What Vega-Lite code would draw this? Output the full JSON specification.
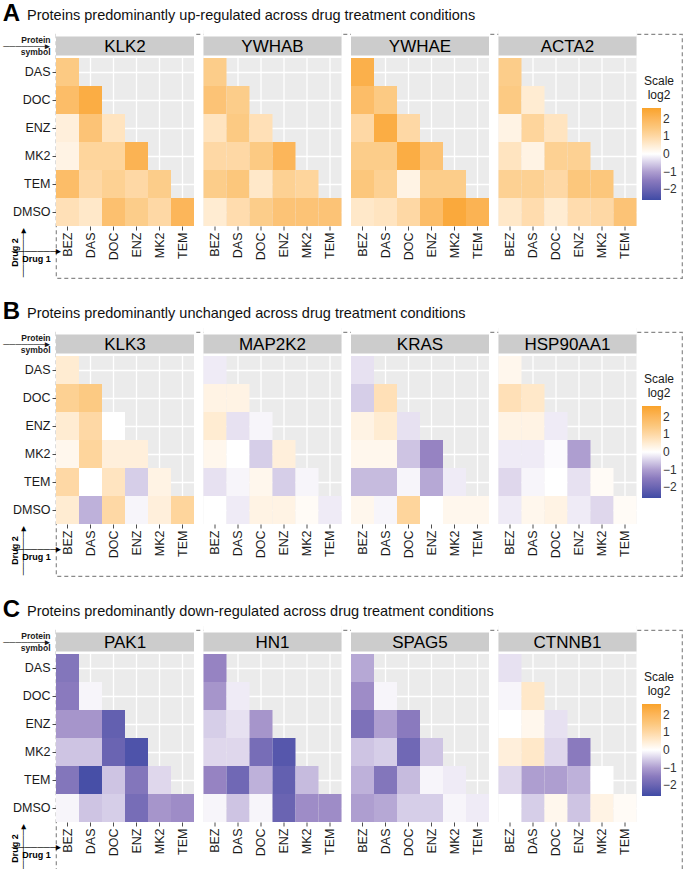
{
"$schema": "https://vega.github.io/schema/vega-lite/v6.json",
"padding": {"left": 2, "top": 2, "right": 2, "bottom": 2},
"background": "white",
"config": {
  "font": "Liberation Sans",
  "view": {"fill": "#EBEBEB", "stroke": null},
  "axis": {"domain": false, "gridColor": "#FFFFFF", "gridWidth": 1.3, "tickColor": "#4d4d4d", "tickSize": 4, "labelFont": "Liberation Sans", "labelFontSize": 12.5, "labelColor": "#1a1a1a", "labelPadding": 2, "titleFont": "Liberation Sans", "titleColor": "#000000", "zindex": 0},
  "legend": {"gradientLength": 92, "gradientThickness": 19, "gradientStrokeWidth": 0, "titleFont": "Liberation Sans", "titleFontSize": 12, "titleFontWeight": "normal", "titleColor": "#1a1a1a", "titleAlign": "center", "titleAnchor": "middle", "labelFont": "Liberation Sans", "labelFontSize": 12, "labelColor": "#333333", "labelOffset": 4, "titlePadding": 6, "orient": "none", "legendX": 586, "legendY": 42},
  "title": {"font": "Liberation Sans", "fontSize": 24, "fontWeight": "bold", "color": "#000000", "anchor": "start", "frame": "bounds", "subtitleFont": "Liberation Sans", "subtitleFontSize": 14.5, "subtitleColor": "#111111", "subtitlePadding": -17, "offset": 0}
},
"resolve": {"scale": {"color": "independent"}, "legend": {"color": "independent"}},
"spacing": 21,
"datasets": {
"A": [
{"p":"KLK2","d1":"BEZ","d2":"DAS","v":1.4},{"p":"KLK2","d1":"BEZ","d2":"DOC","v":1.8},{"p":"KLK2","d1":"DAS","d2":"DOC","v":2.3},{"p":"KLK2","d1":"BEZ","d2":"ENZ","v":0.4},{"p":"KLK2","d1":"DAS","d2":"ENZ","v":1.6},{"p":"KLK2","d1":"DOC","d2":"ENZ","v":0.7},{"p":"KLK2","d1":"BEZ","d2":"MK2","v":0.3},{"p":"KLK2","d1":"DAS","d2":"MK2","v":1.1},{"p":"KLK2","d1":"DOC","d2":"MK2","v":1.1},{"p":"KLK2","d1":"ENZ","d2":"MK2","v":2.1},{"p":"KLK2","d1":"BEZ","d2":"TEM","v":1.8},{"p":"KLK2","d1":"DAS","d2":"TEM","v":1.0},{"p":"KLK2","d1":"DOC","d2":"TEM","v":1.2},{"p":"KLK2","d1":"ENZ","d2":"TEM","v":1.0},{"p":"KLK2","d1":"MK2","d2":"TEM","v":1.3},{"p":"KLK2","d1":"BEZ","d2":"DMSO","v":0.8},{"p":"KLK2","d1":"DAS","d2":"DMSO","v":0.6},{"p":"KLK2","d1":"DOC","d2":"DMSO","v":1.7},{"p":"KLK2","d1":"ENZ","d2":"DMSO","v":1.3},{"p":"KLK2","d1":"MK2","d2":"DMSO","v":1.0},{"p":"KLK2","d1":"TEM","d2":"DMSO","v":2.0},
{"p":"YWHAB","d1":"BEZ","d2":"DAS","v":1.3},{"p":"YWHAB","d1":"BEZ","d2":"DOC","v":1.6},{"p":"YWHAB","d1":"DAS","d2":"DOC","v":1.3},{"p":"YWHAB","d1":"BEZ","d2":"ENZ","v":0.7},{"p":"YWHAB","d1":"DAS","d2":"ENZ","v":1.4},{"p":"YWHAB","d1":"DOC","d2":"ENZ","v":0.8},{"p":"YWHAB","d1":"BEZ","d2":"MK2","v":1.0},{"p":"YWHAB","d1":"DAS","d2":"MK2","v":1.0},{"p":"YWHAB","d1":"DOC","d2":"MK2","v":1.4},{"p":"YWHAB","d1":"ENZ","d2":"MK2","v":2.0},{"p":"YWHAB","d1":"BEZ","d2":"TEM","v":1.3},{"p":"YWHAB","d1":"DAS","d2":"TEM","v":1.5},{"p":"YWHAB","d1":"DOC","d2":"TEM","v":0.6},{"p":"YWHAB","d1":"ENZ","d2":"TEM","v":1.2},{"p":"YWHAB","d1":"MK2","d2":"TEM","v":1.1},{"p":"YWHAB","d1":"BEZ","d2":"DMSO","v":0.5},{"p":"YWHAB","d1":"DAS","d2":"DMSO","v":0.9},{"p":"YWHAB","d1":"DOC","d2":"DMSO","v":1.3},{"p":"YWHAB","d1":"ENZ","d2":"DMSO","v":1.6},{"p":"YWHAB","d1":"MK2","d2":"DMSO","v":1.6},{"p":"YWHAB","d1":"TEM","d2":"DMSO","v":1.6},
{"p":"YWHAE","d1":"BEZ","d2":"DAS","v":2.2},{"p":"YWHAE","d1":"BEZ","d2":"DOC","v":1.8},{"p":"YWHAE","d1":"DAS","d2":"DOC","v":1.4},{"p":"YWHAE","d1":"BEZ","d2":"ENZ","v":1.0},{"p":"YWHAE","d1":"DAS","d2":"ENZ","v":2.3},{"p":"YWHAE","d1":"DOC","d2":"ENZ","v":1.0},{"p":"YWHAE","d1":"BEZ","d2":"MK2","v":1.3},{"p":"YWHAE","d1":"DAS","d2":"MK2","v":1.3},{"p":"YWHAE","d1":"DOC","d2":"MK2","v":2.3},{"p":"YWHAE","d1":"ENZ","d2":"MK2","v":1.6},{"p":"YWHAE","d1":"BEZ","d2":"TEM","v":1.5},{"p":"YWHAE","d1":"DAS","d2":"TEM","v":1.2},{"p":"YWHAE","d1":"DOC","d2":"TEM","v":0.3},{"p":"YWHAE","d1":"ENZ","d2":"TEM","v":1.3},{"p":"YWHAE","d1":"MK2","d2":"TEM","v":1.3},{"p":"YWHAE","d1":"BEZ","d2":"DMSO","v":0.6},{"p":"YWHAE","d1":"DAS","d2":"DMSO","v":0.7},{"p":"YWHAE","d1":"DOC","d2":"DMSO","v":1.0},{"p":"YWHAE","d1":"ENZ","d2":"DMSO","v":1.8},{"p":"YWHAE","d1":"MK2","d2":"DMSO","v":2.4},{"p":"YWHAE","d1":"TEM","d2":"DMSO","v":2.1},
{"p":"ACTA2","d1":"BEZ","d2":"DAS","v":1.3},{"p":"ACTA2","d1":"BEZ","d2":"DOC","v":1.4},{"p":"ACTA2","d1":"DAS","d2":"DOC","v":0.5},{"p":"ACTA2","d1":"BEZ","d2":"ENZ","v":0.3},{"p":"ACTA2","d1":"DAS","d2":"ENZ","v":1.1},{"p":"ACTA2","d1":"DOC","d2":"ENZ","v":0.7},{"p":"ACTA2","d1":"BEZ","d2":"MK2","v":0.7},{"p":"ACTA2","d1":"DAS","d2":"MK2","v":0.3},{"p":"ACTA2","d1":"DOC","d2":"MK2","v":1.2},{"p":"ACTA2","d1":"ENZ","d2":"MK2","v":1.2},{"p":"ACTA2","d1":"BEZ","d2":"TEM","v":1.2},{"p":"ACTA2","d1":"DAS","d2":"TEM","v":1.2},{"p":"ACTA2","d1":"DOC","d2":"TEM","v":1.0},{"p":"ACTA2","d1":"ENZ","d2":"TEM","v":1.5},{"p":"ACTA2","d1":"MK2","d2":"TEM","v":1.5},{"p":"ACTA2","d1":"BEZ","d2":"DMSO","v":0.6},{"p":"ACTA2","d1":"DAS","d2":"DMSO","v":0.9},{"p":"ACTA2","d1":"DOC","d2":"DMSO","v":0.5},{"p":"ACTA2","d1":"ENZ","d2":"DMSO","v":0.9},{"p":"ACTA2","d1":"MK2","d2":"DMSO","v":1.0},{"p":"ACTA2","d1":"TEM","d2":"DMSO","v":1.6}
],
"B": [
{"p":"KLK3","d1":"BEZ","d2":"DAS","v":0.5},{"p":"KLK3","d1":"BEZ","d2":"DOC","v":1.2},{"p":"KLK3","d1":"DAS","d2":"DOC","v":1.4},{"p":"KLK3","d1":"BEZ","d2":"ENZ","v":0.5},{"p":"KLK3","d1":"DAS","d2":"ENZ","v":1.0},{"p":"KLK3","d1":"DOC","d2":"ENZ","v":0.0},{"p":"KLK3","d1":"BEZ","d2":"MK2","v":0.2},{"p":"KLK3","d1":"DAS","d2":"MK2","v":1.1},{"p":"KLK3","d1":"DOC","d2":"MK2","v":0.4},{"p":"KLK3","d1":"ENZ","d2":"MK2","v":0.4},{"p":"KLK3","d1":"BEZ","d2":"TEM","v":1.0},{"p":"KLK3","d1":"DAS","d2":"TEM","v":0.0},{"p":"KLK3","d1":"DOC","d2":"TEM","v":0.7},{"p":"KLK3","d1":"ENZ","d2":"TEM","v":-0.5},{"p":"KLK3","d1":"MK2","d2":"TEM","v":0.3},{"p":"KLK3","d1":"BEZ","d2":"DMSO","v":0.5},{"p":"KLK3","d1":"DAS","d2":"DMSO","v":-0.8},{"p":"KLK3","d1":"DOC","d2":"DMSO","v":1.0},{"p":"KLK3","d1":"ENZ","d2":"DMSO","v":-0.1},{"p":"KLK3","d1":"MK2","d2":"DMSO","v":0.4},{"p":"KLK3","d1":"TEM","d2":"DMSO","v":1.1},
{"p":"MAP2K2","d1":"BEZ","d2":"DAS","v":-0.2},{"p":"MAP2K2","d1":"BEZ","d2":"DOC","v":0.3},{"p":"MAP2K2","d1":"DAS","d2":"DOC","v":0.3},{"p":"MAP2K2","d1":"BEZ","d2":"ENZ","v":0.5},{"p":"MAP2K2","d1":"DAS","d2":"ENZ","v":-0.3},{"p":"MAP2K2","d1":"DOC","d2":"ENZ","v":-0.1},{"p":"MAP2K2","d1":"BEZ","d2":"MK2","v":0.2},{"p":"MAP2K2","d1":"DAS","d2":"MK2","v":0.0},{"p":"MAP2K2","d1":"DOC","d2":"MK2","v":-0.5},{"p":"MAP2K2","d1":"ENZ","d2":"MK2","v":0.4},{"p":"MAP2K2","d1":"BEZ","d2":"TEM","v":-0.3},{"p":"MAP2K2","d1":"DAS","d2":"TEM","v":-0.1},{"p":"MAP2K2","d1":"DOC","d2":"TEM","v":0.2},{"p":"MAP2K2","d1":"ENZ","d2":"TEM","v":-0.5},{"p":"MAP2K2","d1":"MK2","d2":"TEM","v":-0.1},{"p":"MAP2K2","d1":"BEZ","d2":"DMSO","v":0.0},{"p":"MAP2K2","d1":"DAS","d2":"DMSO","v":-0.2},{"p":"MAP2K2","d1":"DOC","d2":"DMSO","v":0.3},{"p":"MAP2K2","d1":"ENZ","d2":"DMSO","v":0.3},{"p":"MAP2K2","d1":"MK2","d2":"DMSO","v":0.1},{"p":"MAP2K2","d1":"TEM","d2":"DMSO","v":-0.2},
{"p":"KRAS","d1":"BEZ","d2":"DAS","v":-0.3},{"p":"KRAS","d1":"BEZ","d2":"DOC","v":-0.5},{"p":"KRAS","d1":"DAS","d2":"DOC","v":0.8},{"p":"KRAS","d1":"BEZ","d2":"ENZ","v":0.3},{"p":"KRAS","d1":"DAS","d2":"ENZ","v":0.5},{"p":"KRAS","d1":"DOC","d2":"ENZ","v":-0.3},{"p":"KRAS","d1":"BEZ","d2":"MK2","v":0.2},{"p":"KRAS","d1":"DAS","d2":"MK2","v":0.2},{"p":"KRAS","d1":"DOC","d2":"MK2","v":-0.6},{"p":"KRAS","d1":"ENZ","d2":"MK2","v":-1.3},{"p":"KRAS","d1":"BEZ","d2":"TEM","v":-0.7},{"p":"KRAS","d1":"DAS","d2":"TEM","v":-0.7},{"p":"KRAS","d1":"DOC","d2":"TEM","v":-0.1},{"p":"KRAS","d1":"ENZ","d2":"TEM","v":-0.9},{"p":"KRAS","d1":"MK2","d2":"TEM","v":-0.2},{"p":"KRAS","d1":"BEZ","d2":"DMSO","v":0.2},{"p":"KRAS","d1":"DAS","d2":"DMSO","v":-0.1},{"p":"KRAS","d1":"DOC","d2":"DMSO","v":1.1},{"p":"KRAS","d1":"ENZ","d2":"DMSO","v":0.0},{"p":"KRAS","d1":"MK2","d2":"DMSO","v":0.2},{"p":"KRAS","d1":"TEM","d2":"DMSO","v":0.2},
{"p":"HSP90AA1","d1":"BEZ","d2":"DAS","v":0.2},{"p":"HSP90AA1","d1":"BEZ","d2":"DOC","v":0.8},{"p":"HSP90AA1","d1":"DAS","d2":"DOC","v":0.6},{"p":"HSP90AA1","d1":"BEZ","d2":"ENZ","v":0.3},{"p":"HSP90AA1","d1":"DAS","d2":"ENZ","v":0.3},{"p":"HSP90AA1","d1":"DOC","d2":"ENZ","v":-0.2},{"p":"HSP90AA1","d1":"BEZ","d2":"MK2","v":-0.2},{"p":"HSP90AA1","d1":"DAS","d2":"MK2","v":-0.2},{"p":"HSP90AA1","d1":"DOC","d2":"MK2","v":-0.05},{"p":"HSP90AA1","d1":"ENZ","d2":"MK2","v":-1.0},{"p":"HSP90AA1","d1":"BEZ","d2":"TEM","v":-0.4},{"p":"HSP90AA1","d1":"DAS","d2":"TEM","v":-0.1},{"p":"HSP90AA1","d1":"DOC","d2":"TEM","v":0.0},{"p":"HSP90AA1","d1":"ENZ","d2":"TEM","v":-0.3},{"p":"HSP90AA1","d1":"MK2","d2":"TEM","v":0.1},{"p":"HSP90AA1","d1":"BEZ","d2":"DMSO","v":-0.2},{"p":"HSP90AA1","d1":"DAS","d2":"DMSO","v":0.2},{"p":"HSP90AA1","d1":"DOC","d2":"DMSO","v":0.3},{"p":"HSP90AA1","d1":"ENZ","d2":"DMSO","v":-0.2},{"p":"HSP90AA1","d1":"MK2","d2":"DMSO","v":-0.4},{"p":"HSP90AA1","d1":"TEM","d2":"DMSO","v":0.1}
],
"C": [
{"p":"PAK1","d1":"BEZ","d2":"DAS","v":-1.6},{"p":"PAK1","d1":"BEZ","d2":"DOC","v":-1.5},{"p":"PAK1","d1":"DAS","d2":"DOC","v":-0.1},{"p":"PAK1","d1":"BEZ","d2":"ENZ","v":-1.1},{"p":"PAK1","d1":"DAS","d2":"ENZ","v":-1.1},{"p":"PAK1","d1":"DOC","d2":"ENZ","v":-2.1},{"p":"PAK1","d1":"BEZ","d2":"MK2","v":-0.6},{"p":"PAK1","d1":"DAS","d2":"MK2","v":-0.6},{"p":"PAK1","d1":"DOC","d2":"MK2","v":-2.0},{"p":"PAK1","d1":"ENZ","d2":"MK2","v":-2.4},{"p":"PAK1","d1":"BEZ","d2":"TEM","v":-1.6},{"p":"PAK1","d1":"DAS","d2":"TEM","v":-2.5},{"p":"PAK1","d1":"DOC","d2":"TEM","v":-0.6},{"p":"PAK1","d1":"ENZ","d2":"TEM","v":-1.6},{"p":"PAK1","d1":"MK2","d2":"TEM","v":-0.4},{"p":"PAK1","d1":"BEZ","d2":"DMSO","v":-0.1},{"p":"PAK1","d1":"DAS","d2":"DMSO","v":-0.6},{"p":"PAK1","d1":"DOC","d2":"DMSO","v":-0.5},{"p":"PAK1","d1":"ENZ","d2":"DMSO","v":-1.8},{"p":"PAK1","d1":"MK2","d2":"DMSO","v":-1.1},{"p":"PAK1","d1":"TEM","d2":"DMSO","v":-1.2},
{"p":"HN1","d1":"BEZ","d2":"DAS","v":-1.3},{"p":"HN1","d1":"BEZ","d2":"DOC","v":-1.1},{"p":"HN1","d1":"DAS","d2":"DOC","v":-0.2},{"p":"HN1","d1":"BEZ","d2":"ENZ","v":-0.5},{"p":"HN1","d1":"DAS","d2":"ENZ","v":-0.3},{"p":"HN1","d1":"DOC","d2":"ENZ","v":-1.1},{"p":"HN1","d1":"BEZ","d2":"MK2","v":-0.4},{"p":"HN1","d1":"DAS","d2":"MK2","v":-0.4},{"p":"HN1","d1":"DOC","d2":"MK2","v":-1.8},{"p":"HN1","d1":"ENZ","d2":"MK2","v":-2.3},{"p":"HN1","d1":"BEZ","d2":"TEM","v":-1.3},{"p":"HN1","d1":"DAS","d2":"TEM","v":-1.9},{"p":"HN1","d1":"DOC","d2":"TEM","v":-0.8},{"p":"HN1","d1":"ENZ","d2":"TEM","v":-2.1},{"p":"HN1","d1":"MK2","d2":"TEM","v":-0.7},{"p":"HN1","d1":"BEZ","d2":"DMSO","v":-0.1},{"p":"HN1","d1":"DAS","d2":"DMSO","v":-0.6},{"p":"HN1","d1":"DOC","d2":"DMSO","v":-0.1},{"p":"HN1","d1":"ENZ","d2":"DMSO","v":-2.0},{"p":"HN1","d1":"MK2","d2":"DMSO","v":-1.2},{"p":"HN1","d1":"TEM","d2":"DMSO","v":-1.2},
{"p":"SPAG5","d1":"BEZ","d2":"DAS","v":-0.9},{"p":"SPAG5","d1":"BEZ","d2":"DOC","v":-1.2},{"p":"SPAG5","d1":"DAS","d2":"DOC","v":-0.1},{"p":"SPAG5","d1":"BEZ","d2":"ENZ","v":-1.7},{"p":"SPAG5","d1":"DAS","d2":"ENZ","v":-1.0},{"p":"SPAG5","d1":"DOC","d2":"ENZ","v":-1.5},{"p":"SPAG5","d1":"BEZ","d2":"MK2","v":-0.6},{"p":"SPAG5","d1":"DAS","d2":"MK2","v":-0.5},{"p":"SPAG5","d1":"DOC","d2":"MK2","v":-1.9},{"p":"SPAG5","d1":"ENZ","d2":"MK2","v":-0.6},{"p":"SPAG5","d1":"BEZ","d2":"TEM","v":-0.8},{"p":"SPAG5","d1":"DAS","d2":"TEM","v":-1.6},{"p":"SPAG5","d1":"DOC","d2":"TEM","v":-0.7},{"p":"SPAG5","d1":"ENZ","d2":"TEM","v":-0.1},{"p":"SPAG5","d1":"MK2","d2":"TEM","v":-0.2},{"p":"SPAG5","d1":"BEZ","d2":"DMSO","v":-1.0},{"p":"SPAG5","d1":"DAS","d2":"DMSO","v":-0.9},{"p":"SPAG5","d1":"DOC","d2":"DMSO","v":-0.5},{"p":"SPAG5","d1":"ENZ","d2":"DMSO","v":-0.5},{"p":"SPAG5","d1":"MK2","d2":"DMSO","v":-0.1},{"p":"SPAG5","d1":"TEM","d2":"DMSO","v":-0.2},
{"p":"CTNNB1","d1":"BEZ","d2":"DAS","v":-0.3},{"p":"CTNNB1","d1":"BEZ","d2":"DOC","v":-0.1},{"p":"CTNNB1","d1":"DAS","d2":"DOC","v":0.6},{"p":"CTNNB1","d1":"BEZ","d2":"ENZ","v":0.0},{"p":"CTNNB1","d1":"DAS","d2":"ENZ","v":0.2},{"p":"CTNNB1","d1":"DOC","d2":"ENZ","v":-0.3},{"p":"CTNNB1","d1":"BEZ","d2":"MK2","v":0.4},{"p":"CTNNB1","d1":"DAS","d2":"MK2","v":0.6},{"p":"CTNNB1","d1":"DOC","d2":"MK2","v":-0.4},{"p":"CTNNB1","d1":"ENZ","d2":"MK2","v":-1.5},{"p":"CTNNB1","d1":"BEZ","d2":"TEM","v":-0.4},{"p":"CTNNB1","d1":"DAS","d2":"TEM","v":-1.0},{"p":"CTNNB1","d1":"DOC","d2":"TEM","v":-1.0},{"p":"CTNNB1","d1":"ENZ","d2":"TEM","v":-0.8},{"p":"CTNNB1","d1":"MK2","d2":"TEM","v":0.0},{"p":"CTNNB1","d1":"BEZ","d2":"DMSO","v":0.0},{"p":"CTNNB1","d1":"DAS","d2":"DMSO","v":-0.5},{"p":"CTNNB1","d1":"DOC","d2":"DMSO","v":0.2},{"p":"CTNNB1","d1":"ENZ","d2":"DMSO","v":-0.6},{"p":"CTNNB1","d1":"MK2","d2":"DMSO","v":0.3},{"p":"CTNNB1","d1":"TEM","d2":"DMSO","v":0.1}
]
},
"vconcat": [
{
 "data": {"name": "A"},
 "title": {"text": "A", "subtitle": "\u200b\u00a0\u00a0\u00a0\u00a0\u00a0\u00a0Proteins predominantly up-regulated across drug treatment conditions"},
 "columns": 1,
 "align": "none",
 "spacing": -249,
 "resolve": {"scale": {"color": "shared"}, "legend": {"color": "shared"}},
 "concat": [
  {"width": 626, "height": 244, "view": {"fill": "#FFFFFF", "fillOpacity": 0, "stroke": "#8A8A8A", "strokeWidth": 1.2, "strokeDash": [4, 3]}, "mark": {"type": "rect", "opacity": 0}, "encoding": {}},
  {"spacing": 9.5,
   "resolve": {"scale": {"color": "shared"}, "legend": {"color": "shared"}},
   "hconcat": [
  {"width": 138, "height": 196, "transform": [{"filter": "datum.p == 'KLK2'"}],
   "layer": [
    {"mark": "rect", "encoding": {
      "x": {"field": "d1", "type": "nominal", "scale": {"domain": ["BEZ","DAS","DOC","ENZ","MK2","TEM"], "paddingInner": 0, "paddingOuter": 0}, "axis": {"zindex": 0, "labelAngle": 270, "grid": true, "title": ["\u2500\u2500\u2500\u2500\u2500\u2500\u2500\u25b8", "Drug 1"], "titleFontSize": 9, "titleFontWeight": "bold", "titleLineHeight": 8, "titleX": -20, "titleY": 24, "titleAlign": "center", "titleBaseline": "middle"}},
      "y": {"field": "d2", "type": "nominal", "scale": {"domain": ["hdr","DAS","DOC","ENZ","MK2","TEM","DMSO"], "paddingInner": 0, "paddingOuter": 0}, "axis": {"zindex": 0, "grid": true, "title": ["Drug 2", "\u2500\u2500\u2500\u2500\u2500\u2500\u2500\u25b8"], "titleFontSize": 9, "titleFontWeight": "bold", "titleLineHeight": 8, "titleX": -42, "titleY": 222, "titleAlign": "center", "titleBaseline": "middle", "labelExpr": "datum.value == 'hdr' ? ['Protein', '\u2500\u2500\u2500\u2500\u2500\u2500\u2500\u25b8', 'symbol'] : datum.value", "labelLineHeight": 6, "labelOffset": {"condition": {"test": "datum.value == 'hdr'", "value": -4}, "value": 0}, "labelFontSize": {"condition": {"test": "datum.value == 'hdr'", "value": 8.5}, "value": 12.5}, "labelFontWeight": {"condition": {"test": "datum.value == 'hdr'", "value": "bold"}, "value": "normal"}, "tickOpacity": {"condition": {"test": "datum.value == 'hdr'", "value": 0}, "value": 1}}},
      "color": {"field": "v", "type": "quantitative", "scale": {"domain": [-2.6, -1.3, 0, 1.3, 2.6], "range": ["#3F4BA5", "#9683C2", "#FFFFFF", "#FCCD8A", "#F9A32A"], "interpolate": "lab"}, "legend": {"title": ["Scale", "log2"], "values": [2, 1, 0, -1, -2]}}}},
    {"transform": [{"aggregate": [{"op": "count", "as": "n"}], "groupby": ["p"]}],
     "layer": [
      {"mark": {"type": "rect", "fill": "#FFFFFF"}, "encoding": {"y": {"datum": "hdr", "type": "nominal", "scale": {"domain": ["hdr","DAS","DOC","ENZ","MK2","TEM","DMSO"], "paddingInner": 0, "paddingOuter": 0}}}},
      {"mark": {"type": "bar", "fill": "#CCCCCC", "height": 19, "yOffset": 2}, "encoding": {"y": {"datum": "hdr", "type": "nominal", "scale": {"domain": ["hdr","DAS","DOC","ENZ","MK2","TEM","DMSO"], "paddingInner": 0, "paddingOuter": 0}}}},
      {"mark": {"type": "text", "fontSize": 17, "yOffset": 2.5, "color": "#000000"}, "encoding": {"y": {"datum": "hdr", "type": "nominal", "scale": {"domain": ["hdr","DAS","DOC","ENZ","MK2","TEM","DMSO"], "paddingInner": 0, "paddingOuter": 0}}, "text": {"field": "p", "type": "nominal"}}}
     ]}
   ]},
  {"width": 138, "height": 196, "transform": [{"filter": "datum.p == 'YWHAB'"}],
   "layer": [
    {"mark": "rect", "encoding": {
      "x": {"field": "d1", "type": "nominal", "scale": {"domain": ["BEZ","DAS","DOC","ENZ","MK2","TEM"], "paddingInner": 0, "paddingOuter": 0}, "axis": {"zindex": 0, "labelAngle": 270, "grid": true, "title": null}},
      "y": {"field": "d2", "type": "nominal", "scale": {"domain": ["hdr","DAS","DOC","ENZ","MK2","TEM","DMSO"], "paddingInner": 0, "paddingOuter": 0}, "axis": {"zindex": 0, "grid": true, "title": null, "labels": false, "ticks": false, "minExtent": 0}},
      "color": {"field": "v", "type": "quantitative", "scale": {"domain": [-2.6, -1.3, 0, 1.3, 2.6], "range": ["#3F4BA5", "#9683C2", "#FFFFFF", "#FCCD8A", "#F9A32A"], "interpolate": "lab"}, "legend": {"title": ["Scale", "log2"], "values": [2, 1, 0, -1, -2]}}}},
    {"transform": [{"aggregate": [{"op": "count", "as": "n"}], "groupby": ["p"]}],
     "layer": [
      {"mark": {"type": "rect", "fill": "#FFFFFF"}, "encoding": {"y": {"datum": "hdr", "type": "nominal", "scale": {"domain": ["hdr","DAS","DOC","ENZ","MK2","TEM","DMSO"], "paddingInner": 0, "paddingOuter": 0}}}},
      {"mark": {"type": "bar", "fill": "#CCCCCC", "height": 19, "yOffset": 2}, "encoding": {"y": {"datum": "hdr", "type": "nominal", "scale": {"domain": ["hdr","DAS","DOC","ENZ","MK2","TEM","DMSO"], "paddingInner": 0, "paddingOuter": 0}}}},
      {"mark": {"type": "text", "fontSize": 17, "yOffset": 2.5, "color": "#000000"}, "encoding": {"y": {"datum": "hdr", "type": "nominal", "scale": {"domain": ["hdr","DAS","DOC","ENZ","MK2","TEM","DMSO"], "paddingInner": 0, "paddingOuter": 0}}, "text": {"field": "p", "type": "nominal"}}}
     ]}
   ]},
  {"width": 138, "height": 196, "transform": [{"filter": "datum.p == 'YWHAE'"}],
   "layer": [
    {"mark": "rect", "encoding": {
      "x": {"field": "d1", "type": "nominal", "scale": {"domain": ["BEZ","DAS","DOC","ENZ","MK2","TEM"], "paddingInner": 0, "paddingOuter": 0}, "axis": {"zindex": 0, "labelAngle": 270, "grid": true, "title": null}},
      "y": {"field": "d2", "type": "nominal", "scale": {"domain": ["hdr","DAS","DOC","ENZ","MK2","TEM","DMSO"], "paddingInner": 0, "paddingOuter": 0}, "axis": {"zindex": 0, "grid": true, "title": null, "labels": false, "ticks": false, "minExtent": 0}},
      "color": {"field": "v", "type": "quantitative", "scale": {"domain": [-2.6, -1.3, 0, 1.3, 2.6], "range": ["#3F4BA5", "#9683C2", "#FFFFFF", "#FCCD8A", "#F9A32A"], "interpolate": "lab"}, "legend": {"title": ["Scale", "log2"], "values": [2, 1, 0, -1, -2]}}}},
    {"transform": [{"aggregate": [{"op": "count", "as": "n"}], "groupby": ["p"]}],
     "layer": [
      {"mark": {"type": "rect", "fill": "#FFFFFF"}, "encoding": {"y": {"datum": "hdr", "type": "nominal", "scale": {"domain": ["hdr","DAS","DOC","ENZ","MK2","TEM","DMSO"], "paddingInner": 0, "paddingOuter": 0}}}},
      {"mark": {"type": "bar", "fill": "#CCCCCC", "height": 19, "yOffset": 2}, "encoding": {"y": {"datum": "hdr", "type": "nominal", "scale": {"domain": ["hdr","DAS","DOC","ENZ","MK2","TEM","DMSO"], "paddingInner": 0, "paddingOuter": 0}}}},
      {"mark": {"type": "text", "fontSize": 17, "yOffset": 2.5, "color": "#000000"}, "encoding": {"y": {"datum": "hdr", "type": "nominal", "scale": {"domain": ["hdr","DAS","DOC","ENZ","MK2","TEM","DMSO"], "paddingInner": 0, "paddingOuter": 0}}, "text": {"field": "p", "type": "nominal"}}}
     ]}
   ]},
  {"width": 138, "height": 196, "transform": [{"filter": "datum.p == 'ACTA2'"}],
   "layer": [
    {"mark": "rect", "encoding": {
      "x": {"field": "d1", "type": "nominal", "scale": {"domain": ["BEZ","DAS","DOC","ENZ","MK2","TEM"], "paddingInner": 0, "paddingOuter": 0}, "axis": {"zindex": 0, "labelAngle": 270, "grid": true, "title": null}},
      "y": {"field": "d2", "type": "nominal", "scale": {"domain": ["hdr","DAS","DOC","ENZ","MK2","TEM","DMSO"], "paddingInner": 0, "paddingOuter": 0}, "axis": {"zindex": 0, "grid": true, "title": null, "labels": false, "ticks": false, "minExtent": 0}},
      "color": {"field": "v", "type": "quantitative", "scale": {"domain": [-2.6, -1.3, 0, 1.3, 2.6], "range": ["#3F4BA5", "#9683C2", "#FFFFFF", "#FCCD8A", "#F9A32A"], "interpolate": "lab"}, "legend": {"title": ["Scale", "log2"], "values": [2, 1, 0, -1, -2]}}}},
    {"transform": [{"aggregate": [{"op": "count", "as": "n"}], "groupby": ["p"]}],
     "layer": [
      {"mark": {"type": "rect", "fill": "#FFFFFF"}, "encoding": {"y": {"datum": "hdr", "type": "nominal", "scale": {"domain": ["hdr","DAS","DOC","ENZ","MK2","TEM","DMSO"], "paddingInner": 0, "paddingOuter": 0}}}},
      {"mark": {"type": "bar", "fill": "#CCCCCC", "height": 19, "yOffset": 2}, "encoding": {"y": {"datum": "hdr", "type": "nominal", "scale": {"domain": ["hdr","DAS","DOC","ENZ","MK2","TEM","DMSO"], "paddingInner": 0, "paddingOuter": 0}}}},
      {"mark": {"type": "text", "fontSize": 17, "yOffset": 2.5, "color": "#000000"}, "encoding": {"y": {"datum": "hdr", "type": "nominal", "scale": {"domain": ["hdr","DAS","DOC","ENZ","MK2","TEM","DMSO"], "paddingInner": 0, "paddingOuter": 0}}, "text": {"field": "p", "type": "nominal"}}}
     ]}
   ]}
   ]}
 ]
},
{
 "data": {"name": "B"},
 "title": {"text": "B", "subtitle": "\u200b\u00a0\u00a0\u00a0\u00a0\u00a0\u00a0Proteins predominantly unchanged across drug treatment conditions"},
 "columns": 1,
 "align": "none",
 "spacing": -249,
 "resolve": {"scale": {"color": "shared"}, "legend": {"color": "shared"}},
 "concat": [
  {"width": 626, "height": 244, "view": {"fill": "#FFFFFF", "fillOpacity": 0, "stroke": "#8A8A8A", "strokeWidth": 1.2, "strokeDash": [4, 3]}, "mark": {"type": "rect", "opacity": 0}, "encoding": {}},
  {"spacing": 9.5,
   "resolve": {"scale": {"color": "shared"}, "legend": {"color": "shared"}},
   "hconcat": [
  {"width": 138, "height": 196, "transform": [{"filter": "datum.p == 'KLK3'"}],
   "layer": [
    {"mark": "rect", "encoding": {
      "x": {"field": "d1", "type": "nominal", "scale": {"domain": ["BEZ","DAS","DOC","ENZ","MK2","TEM"], "paddingInner": 0, "paddingOuter": 0}, "axis": {"zindex": 0, "labelAngle": 270, "grid": true, "title": ["\u2500\u2500\u2500\u2500\u2500\u2500\u2500\u25b8", "Drug 1"], "titleFontSize": 9, "titleFontWeight": "bold", "titleLineHeight": 8, "titleX": -20, "titleY": 24, "titleAlign": "center", "titleBaseline": "middle"}},
      "y": {"field": "d2", "type": "nominal", "scale": {"domain": ["hdr","DAS","DOC","ENZ","MK2","TEM","DMSO"], "paddingInner": 0, "paddingOuter": 0}, "axis": {"zindex": 0, "grid": true, "title": ["Drug 2", "\u2500\u2500\u2500\u2500\u2500\u2500\u2500\u25b8"], "titleFontSize": 9, "titleFontWeight": "bold", "titleLineHeight": 8, "titleX": -42, "titleY": 222, "titleAlign": "center", "titleBaseline": "middle", "labelExpr": "datum.value == 'hdr' ? ['Protein', '\u2500\u2500\u2500\u2500\u2500\u2500\u2500\u25b8', 'symbol'] : datum.value", "labelLineHeight": 6, "labelOffset": {"condition": {"test": "datum.value == 'hdr'", "value": -4}, "value": 0}, "labelFontSize": {"condition": {"test": "datum.value == 'hdr'", "value": 8.5}, "value": 12.5}, "labelFontWeight": {"condition": {"test": "datum.value == 'hdr'", "value": "bold"}, "value": "normal"}, "tickOpacity": {"condition": {"test": "datum.value == 'hdr'", "value": 0}, "value": 1}}},
      "color": {"field": "v", "type": "quantitative", "scale": {"domain": [-2.6, -1.3, 0, 1.3, 2.6], "range": ["#3F4BA5", "#9683C2", "#FFFFFF", "#FCCD8A", "#F9A32A"], "interpolate": "lab"}, "legend": {"title": ["Scale", "log2"], "values": [2, 1, 0, -1, -2]}}}},
    {"transform": [{"aggregate": [{"op": "count", "as": "n"}], "groupby": ["p"]}],
     "layer": [
      {"mark": {"type": "rect", "fill": "#FFFFFF"}, "encoding": {"y": {"datum": "hdr", "type": "nominal", "scale": {"domain": ["hdr","DAS","DOC","ENZ","MK2","TEM","DMSO"], "paddingInner": 0, "paddingOuter": 0}}}},
      {"mark": {"type": "bar", "fill": "#CCCCCC", "height": 19, "yOffset": 2}, "encoding": {"y": {"datum": "hdr", "type": "nominal", "scale": {"domain": ["hdr","DAS","DOC","ENZ","MK2","TEM","DMSO"], "paddingInner": 0, "paddingOuter": 0}}}},
      {"mark": {"type": "text", "fontSize": 17, "yOffset": 2.5, "color": "#000000"}, "encoding": {"y": {"datum": "hdr", "type": "nominal", "scale": {"domain": ["hdr","DAS","DOC","ENZ","MK2","TEM","DMSO"], "paddingInner": 0, "paddingOuter": 0}}, "text": {"field": "p", "type": "nominal"}}}
     ]}
   ]},
  {"width": 138, "height": 196, "transform": [{"filter": "datum.p == 'MAP2K2'"}],
   "layer": [
    {"mark": "rect", "encoding": {
      "x": {"field": "d1", "type": "nominal", "scale": {"domain": ["BEZ","DAS","DOC","ENZ","MK2","TEM"], "paddingInner": 0, "paddingOuter": 0}, "axis": {"zindex": 0, "labelAngle": 270, "grid": true, "title": null}},
      "y": {"field": "d2", "type": "nominal", "scale": {"domain": ["hdr","DAS","DOC","ENZ","MK2","TEM","DMSO"], "paddingInner": 0, "paddingOuter": 0}, "axis": {"zindex": 0, "grid": true, "title": null, "labels": false, "ticks": false, "minExtent": 0}},
      "color": {"field": "v", "type": "quantitative", "scale": {"domain": [-2.6, -1.3, 0, 1.3, 2.6], "range": ["#3F4BA5", "#9683C2", "#FFFFFF", "#FCCD8A", "#F9A32A"], "interpolate": "lab"}, "legend": {"title": ["Scale", "log2"], "values": [2, 1, 0, -1, -2]}}}},
    {"transform": [{"aggregate": [{"op": "count", "as": "n"}], "groupby": ["p"]}],
     "layer": [
      {"mark": {"type": "rect", "fill": "#FFFFFF"}, "encoding": {"y": {"datum": "hdr", "type": "nominal", "scale": {"domain": ["hdr","DAS","DOC","ENZ","MK2","TEM","DMSO"], "paddingInner": 0, "paddingOuter": 0}}}},
      {"mark": {"type": "bar", "fill": "#CCCCCC", "height": 19, "yOffset": 2}, "encoding": {"y": {"datum": "hdr", "type": "nominal", "scale": {"domain": ["hdr","DAS","DOC","ENZ","MK2","TEM","DMSO"], "paddingInner": 0, "paddingOuter": 0}}}},
      {"mark": {"type": "text", "fontSize": 17, "yOffset": 2.5, "color": "#000000"}, "encoding": {"y": {"datum": "hdr", "type": "nominal", "scale": {"domain": ["hdr","DAS","DOC","ENZ","MK2","TEM","DMSO"], "paddingInner": 0, "paddingOuter": 0}}, "text": {"field": "p", "type": "nominal"}}}
     ]}
   ]},
  {"width": 138, "height": 196, "transform": [{"filter": "datum.p == 'KRAS'"}],
   "layer": [
    {"mark": "rect", "encoding": {
      "x": {"field": "d1", "type": "nominal", "scale": {"domain": ["BEZ","DAS","DOC","ENZ","MK2","TEM"], "paddingInner": 0, "paddingOuter": 0}, "axis": {"zindex": 0, "labelAngle": 270, "grid": true, "title": null}},
      "y": {"field": "d2", "type": "nominal", "scale": {"domain": ["hdr","DAS","DOC","ENZ","MK2","TEM","DMSO"], "paddingInner": 0, "paddingOuter": 0}, "axis": {"zindex": 0, "grid": true, "title": null, "labels": false, "ticks": false, "minExtent": 0}},
      "color": {"field": "v", "type": "quantitative", "scale": {"domain": [-2.6, -1.3, 0, 1.3, 2.6], "range": ["#3F4BA5", "#9683C2", "#FFFFFF", "#FCCD8A", "#F9A32A"], "interpolate": "lab"}, "legend": {"title": ["Scale", "log2"], "values": [2, 1, 0, -1, -2]}}}},
    {"transform": [{"aggregate": [{"op": "count", "as": "n"}], "groupby": ["p"]}],
     "layer": [
      {"mark": {"type": "rect", "fill": "#FFFFFF"}, "encoding": {"y": {"datum": "hdr", "type": "nominal", "scale": {"domain": ["hdr","DAS","DOC","ENZ","MK2","TEM","DMSO"], "paddingInner": 0, "paddingOuter": 0}}}},
      {"mark": {"type": "bar", "fill": "#CCCCCC", "height": 19, "yOffset": 2}, "encoding": {"y": {"datum": "hdr", "type": "nominal", "scale": {"domain": ["hdr","DAS","DOC","ENZ","MK2","TEM","DMSO"], "paddingInner": 0, "paddingOuter": 0}}}},
      {"mark": {"type": "text", "fontSize": 17, "yOffset": 2.5, "color": "#000000"}, "encoding": {"y": {"datum": "hdr", "type": "nominal", "scale": {"domain": ["hdr","DAS","DOC","ENZ","MK2","TEM","DMSO"], "paddingInner": 0, "paddingOuter": 0}}, "text": {"field": "p", "type": "nominal"}}}
     ]}
   ]},
  {"width": 138, "height": 196, "transform": [{"filter": "datum.p == 'HSP90AA1'"}],
   "layer": [
    {"mark": "rect", "encoding": {
      "x": {"field": "d1", "type": "nominal", "scale": {"domain": ["BEZ","DAS","DOC","ENZ","MK2","TEM"], "paddingInner": 0, "paddingOuter": 0}, "axis": {"zindex": 0, "labelAngle": 270, "grid": true, "title": null}},
      "y": {"field": "d2", "type": "nominal", "scale": {"domain": ["hdr","DAS","DOC","ENZ","MK2","TEM","DMSO"], "paddingInner": 0, "paddingOuter": 0}, "axis": {"zindex": 0, "grid": true, "title": null, "labels": false, "ticks": false, "minExtent": 0}},
      "color": {"field": "v", "type": "quantitative", "scale": {"domain": [-2.6, -1.3, 0, 1.3, 2.6], "range": ["#3F4BA5", "#9683C2", "#FFFFFF", "#FCCD8A", "#F9A32A"], "interpolate": "lab"}, "legend": {"title": ["Scale", "log2"], "values": [2, 1, 0, -1, -2]}}}},
    {"transform": [{"aggregate": [{"op": "count", "as": "n"}], "groupby": ["p"]}],
     "layer": [
      {"mark": {"type": "rect", "fill": "#FFFFFF"}, "encoding": {"y": {"datum": "hdr", "type": "nominal", "scale": {"domain": ["hdr","DAS","DOC","ENZ","MK2","TEM","DMSO"], "paddingInner": 0, "paddingOuter": 0}}}},
      {"mark": {"type": "bar", "fill": "#CCCCCC", "height": 19, "yOffset": 2}, "encoding": {"y": {"datum": "hdr", "type": "nominal", "scale": {"domain": ["hdr","DAS","DOC","ENZ","MK2","TEM","DMSO"], "paddingInner": 0, "paddingOuter": 0}}}},
      {"mark": {"type": "text", "fontSize": 17, "yOffset": 2.5, "color": "#000000"}, "encoding": {"y": {"datum": "hdr", "type": "nominal", "scale": {"domain": ["hdr","DAS","DOC","ENZ","MK2","TEM","DMSO"], "paddingInner": 0, "paddingOuter": 0}}, "text": {"field": "p", "type": "nominal"}}}
     ]}
   ]}
   ]}
 ]
},
{
 "data": {"name": "C"},
 "title": {"text": "C", "subtitle": "\u200b\u00a0\u00a0\u00a0\u00a0\u00a0\u00a0Proteins predominantly down-regulated across drug treatment conditions"},
 "columns": 1,
 "align": "none",
 "spacing": -249,
 "resolve": {"scale": {"color": "shared"}, "legend": {"color": "shared"}},
 "concat": [
  {"width": 626, "height": 244, "view": {"fill": "#FFFFFF", "fillOpacity": 0, "stroke": "#8A8A8A", "strokeWidth": 1.2, "strokeDash": [4, 3]}, "mark": {"type": "rect", "opacity": 0}, "encoding": {}},
  {"spacing": 9.5,
   "resolve": {"scale": {"color": "shared"}, "legend": {"color": "shared"}},
   "hconcat": [
  {"width": 138, "height": 196, "transform": [{"filter": "datum.p == 'PAK1'"}],
   "layer": [
    {"mark": "rect", "encoding": {
      "x": {"field": "d1", "type": "nominal", "scale": {"domain": ["BEZ","DAS","DOC","ENZ","MK2","TEM"], "paddingInner": 0, "paddingOuter": 0}, "axis": {"zindex": 0, "labelAngle": 270, "grid": true, "title": ["\u2500\u2500\u2500\u2500\u2500\u2500\u2500\u25b8", "Drug 1"], "titleFontSize": 9, "titleFontWeight": "bold", "titleLineHeight": 8, "titleX": -20, "titleY": 24, "titleAlign": "center", "titleBaseline": "middle"}},
      "y": {"field": "d2", "type": "nominal", "scale": {"domain": ["hdr","DAS","DOC","ENZ","MK2","TEM","DMSO"], "paddingInner": 0, "paddingOuter": 0}, "axis": {"zindex": 0, "grid": true, "title": ["Drug 2", "\u2500\u2500\u2500\u2500\u2500\u2500\u2500\u25b8"], "titleFontSize": 9, "titleFontWeight": "bold", "titleLineHeight": 8, "titleX": -42, "titleY": 222, "titleAlign": "center", "titleBaseline": "middle", "labelExpr": "datum.value == 'hdr' ? ['Protein', '\u2500\u2500\u2500\u2500\u2500\u2500\u2500\u25b8', 'symbol'] : datum.value", "labelLineHeight": 6, "labelOffset": {"condition": {"test": "datum.value == 'hdr'", "value": -4}, "value": 0}, "labelFontSize": {"condition": {"test": "datum.value == 'hdr'", "value": 8.5}, "value": 12.5}, "labelFontWeight": {"condition": {"test": "datum.value == 'hdr'", "value": "bold"}, "value": "normal"}, "tickOpacity": {"condition": {"test": "datum.value == 'hdr'", "value": 0}, "value": 1}}},
      "color": {"field": "v", "type": "quantitative", "scale": {"domain": [-2.6, -1.3, 0, 1.3, 2.6], "range": ["#3F4BA5", "#9683C2", "#FFFFFF", "#FCCD8A", "#F9A32A"], "interpolate": "lab"}, "legend": {"title": ["Scale", "log2"], "values": [2, 1, 0, -1, -2]}}}},
    {"transform": [{"aggregate": [{"op": "count", "as": "n"}], "groupby": ["p"]}],
     "layer": [
      {"mark": {"type": "rect", "fill": "#FFFFFF"}, "encoding": {"y": {"datum": "hdr", "type": "nominal", "scale": {"domain": ["hdr","DAS","DOC","ENZ","MK2","TEM","DMSO"], "paddingInner": 0, "paddingOuter": 0}}}},
      {"mark": {"type": "bar", "fill": "#CCCCCC", "height": 19, "yOffset": 2}, "encoding": {"y": {"datum": "hdr", "type": "nominal", "scale": {"domain": ["hdr","DAS","DOC","ENZ","MK2","TEM","DMSO"], "paddingInner": 0, "paddingOuter": 0}}}},
      {"mark": {"type": "text", "fontSize": 17, "yOffset": 2.5, "color": "#000000"}, "encoding": {"y": {"datum": "hdr", "type": "nominal", "scale": {"domain": ["hdr","DAS","DOC","ENZ","MK2","TEM","DMSO"], "paddingInner": 0, "paddingOuter": 0}}, "text": {"field": "p", "type": "nominal"}}}
     ]}
   ]},
  {"width": 138, "height": 196, "transform": [{"filter": "datum.p == 'HN1'"}],
   "layer": [
    {"mark": "rect", "encoding": {
      "x": {"field": "d1", "type": "nominal", "scale": {"domain": ["BEZ","DAS","DOC","ENZ","MK2","TEM"], "paddingInner": 0, "paddingOuter": 0}, "axis": {"zindex": 0, "labelAngle": 270, "grid": true, "title": null}},
      "y": {"field": "d2", "type": "nominal", "scale": {"domain": ["hdr","DAS","DOC","ENZ","MK2","TEM","DMSO"], "paddingInner": 0, "paddingOuter": 0}, "axis": {"zindex": 0, "grid": true, "title": null, "labels": false, "ticks": false, "minExtent": 0}},
      "color": {"field": "v", "type": "quantitative", "scale": {"domain": [-2.6, -1.3, 0, 1.3, 2.6], "range": ["#3F4BA5", "#9683C2", "#FFFFFF", "#FCCD8A", "#F9A32A"], "interpolate": "lab"}, "legend": {"title": ["Scale", "log2"], "values": [2, 1, 0, -1, -2]}}}},
    {"transform": [{"aggregate": [{"op": "count", "as": "n"}], "groupby": ["p"]}],
     "layer": [
      {"mark": {"type": "rect", "fill": "#FFFFFF"}, "encoding": {"y": {"datum": "hdr", "type": "nominal", "scale": {"domain": ["hdr","DAS","DOC","ENZ","MK2","TEM","DMSO"], "paddingInner": 0, "paddingOuter": 0}}}},
      {"mark": {"type": "bar", "fill": "#CCCCCC", "height": 19, "yOffset": 2}, "encoding": {"y": {"datum": "hdr", "type": "nominal", "scale": {"domain": ["hdr","DAS","DOC","ENZ","MK2","TEM","DMSO"], "paddingInner": 0, "paddingOuter": 0}}}},
      {"mark": {"type": "text", "fontSize": 17, "yOffset": 2.5, "color": "#000000"}, "encoding": {"y": {"datum": "hdr", "type": "nominal", "scale": {"domain": ["hdr","DAS","DOC","ENZ","MK2","TEM","DMSO"], "paddingInner": 0, "paddingOuter": 0}}, "text": {"field": "p", "type": "nominal"}}}
     ]}
   ]},
  {"width": 138, "height": 196, "transform": [{"filter": "datum.p == 'SPAG5'"}],
   "layer": [
    {"mark": "rect", "encoding": {
      "x": {"field": "d1", "type": "nominal", "scale": {"domain": ["BEZ","DAS","DOC","ENZ","MK2","TEM"], "paddingInner": 0, "paddingOuter": 0}, "axis": {"zindex": 0, "labelAngle": 270, "grid": true, "title": null}},
      "y": {"field": "d2", "type": "nominal", "scale": {"domain": ["hdr","DAS","DOC","ENZ","MK2","TEM","DMSO"], "paddingInner": 0, "paddingOuter": 0}, "axis": {"zindex": 0, "grid": true, "title": null, "labels": false, "ticks": false, "minExtent": 0}},
      "color": {"field": "v", "type": "quantitative", "scale": {"domain": [-2.6, -1.3, 0, 1.3, 2.6], "range": ["#3F4BA5", "#9683C2", "#FFFFFF", "#FCCD8A", "#F9A32A"], "interpolate": "lab"}, "legend": {"title": ["Scale", "log2"], "values": [2, 1, 0, -1, -2]}}}},
    {"transform": [{"aggregate": [{"op": "count", "as": "n"}], "groupby": ["p"]}],
     "layer": [
      {"mark": {"type": "rect", "fill": "#FFFFFF"}, "encoding": {"y": {"datum": "hdr", "type": "nominal", "scale": {"domain": ["hdr","DAS","DOC","ENZ","MK2","TEM","DMSO"], "paddingInner": 0, "paddingOuter": 0}}}},
      {"mark": {"type": "bar", "fill": "#CCCCCC", "height": 19, "yOffset": 2}, "encoding": {"y": {"datum": "hdr", "type": "nominal", "scale": {"domain": ["hdr","DAS","DOC","ENZ","MK2","TEM","DMSO"], "paddingInner": 0, "paddingOuter": 0}}}},
      {"mark": {"type": "text", "fontSize": 17, "yOffset": 2.5, "color": "#000000"}, "encoding": {"y": {"datum": "hdr", "type": "nominal", "scale": {"domain": ["hdr","DAS","DOC","ENZ","MK2","TEM","DMSO"], "paddingInner": 0, "paddingOuter": 0}}, "text": {"field": "p", "type": "nominal"}}}
     ]}
   ]},
  {"width": 138, "height": 196, "transform": [{"filter": "datum.p == 'CTNNB1'"}],
   "layer": [
    {"mark": "rect", "encoding": {
      "x": {"field": "d1", "type": "nominal", "scale": {"domain": ["BEZ","DAS","DOC","ENZ","MK2","TEM"], "paddingInner": 0, "paddingOuter": 0}, "axis": {"zindex": 0, "labelAngle": 270, "grid": true, "title": null}},
      "y": {"field": "d2", "type": "nominal", "scale": {"domain": ["hdr","DAS","DOC","ENZ","MK2","TEM","DMSO"], "paddingInner": 0, "paddingOuter": 0}, "axis": {"zindex": 0, "grid": true, "title": null, "labels": false, "ticks": false, "minExtent": 0}},
      "color": {"field": "v", "type": "quantitative", "scale": {"domain": [-2.6, -1.3, 0, 1.3, 2.6], "range": ["#3F4BA5", "#9683C2", "#FFFFFF", "#FCCD8A", "#F9A32A"], "interpolate": "lab"}, "legend": {"title": ["Scale", "log2"], "values": [2, 1, 0, -1, -2]}}}},
    {"transform": [{"aggregate": [{"op": "count", "as": "n"}], "groupby": ["p"]}],
     "layer": [
      {"mark": {"type": "rect", "fill": "#FFFFFF"}, "encoding": {"y": {"datum": "hdr", "type": "nominal", "scale": {"domain": ["hdr","DAS","DOC","ENZ","MK2","TEM","DMSO"], "paddingInner": 0, "paddingOuter": 0}}}},
      {"mark": {"type": "bar", "fill": "#CCCCCC", "height": 19, "yOffset": 2}, "encoding": {"y": {"datum": "hdr", "type": "nominal", "scale": {"domain": ["hdr","DAS","DOC","ENZ","MK2","TEM","DMSO"], "paddingInner": 0, "paddingOuter": 0}}}},
      {"mark": {"type": "text", "fontSize": 17, "yOffset": 2.5, "color": "#000000"}, "encoding": {"y": {"datum": "hdr", "type": "nominal", "scale": {"domain": ["hdr","DAS","DOC","ENZ","MK2","TEM","DMSO"], "paddingInner": 0, "paddingOuter": 0}}, "text": {"field": "p", "type": "nominal"}}}
     ]}
   ]}
   ]}
 ]
}
]
}
